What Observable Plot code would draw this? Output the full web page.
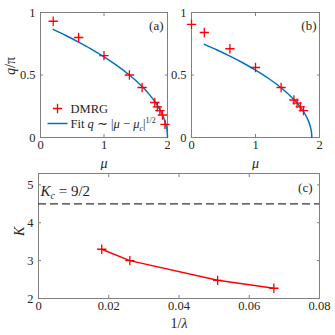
<!DOCTYPE html>
<html><head><meta charset="utf-8">
<script src="https://cdn.jsdelivr.net/npm/d3@7"></script>
<script src="https://cdn.jsdelivr.net/npm/@observablehq/plot@0.6"></script>
<style>
body{margin:0;background:#fff;}
#wrap{position:relative;width:335px;height:335px;overflow:hidden;background:#fff;}
#wrap svg{position:absolute;}
</style></head><body><div id="wrap"></div>
<script>
// Panel (a) DMRG
const muA = [0.2, 0.6, 1.0, 1.4, 1.6, 1.8, 1.84, 1.88, 1.92, 1.96];
const qA  = [0.93, 0.80, 0.655, 0.50, 0.40, 0.28, 0.245, 0.215, 0.18, 0.105];
// Panel (a) fit curve
const muFitA = [0.2, 0.4, 0.6, 0.8, 1.0, 1.2, 1.4, 1.6, 1.7, 1.8, 1.85, 1.9, 1.95, 1.98, 1.995, 2.0];
const qFitA  = [0.865, 0.816, 0.763, 0.707, 0.645, 0.577, 0.50, 0.408, 0.353, 0.288, 0.25, 0.204, 0.144, 0.091, 0.046, 0.0];
// Panel (b) DMRG
const muB = [0.0, 0.2, 0.6, 1.0, 1.4, 1.6, 1.65, 1.7, 1.75];
const qB  = [0.905, 0.84, 0.71, 0.56, 0.40, 0.30, 0.275, 0.245, 0.215];
// Panel (b) fit curve
const muFitB = [0.2, 0.4, 0.6, 0.8, 1.0, 1.2, 1.4, 1.6, 1.7, 1.78, 1.83, 1.86, 1.875, 1.88];
const qFitB  = [0.745, 0.700, 0.651, 0.598, 0.539, 0.474, 0.398, 0.304, 0.244, 0.182, 0.129, 0.081, 0.041, 0.0];
// Panel (c)
const invLambda = [0.018, 0.026, 0.051, 0.067];
const K = [3.3, 3.0, 2.48, 2.27];
const Kc = [4.5];
// Ticks
const ticksMu = [0, 1, 2];
const ticksQ = [0, 0.5, 1];
const ticksInvL = [0, 0.02, 0.04, 0.06, 0.08];
const ticksK = [2, 3, 4, 5];

const RED = "#ff0000", BLUE = "#0072BD", AX = "#808080", TXT = "#262626";
const zip = (xs, ys) => xs.map((x, i) => ({x, y: ys[i]}));
const dmrgA = zip(muA, qA), fitA = zip(muFitA, qFitA);
const dmrgB = zip(muB, qB), fitB = zip(muFitB, qFitB);
const kData = zip(invLambda, K);

const style = {fontFamily: "'Liberation Serif', serif", fontSize: "12.5px", background: "transparent", color: TXT};
const fmt = d => String(d);
const axes = (xt, yt) => [
  Plot.axisX({ticks: xt, anchor: "bottom", tickSize: -3, tickPadding: 6, stroke: AX, fill: TXT, tickFormat: fmt, label: null}),
  Plot.axisX({ticks: xt, anchor: "top", tickSize: -3, stroke: AX, tickFormat: () => "", label: null}),
  Plot.axisY({ticks: yt, anchor: "left", tickSize: -3, tickPadding: 8, stroke: AX, fill: TXT, tickFormat: fmt, label: null}),
  Plot.axisY({ticks: yt, anchor: "right", tickSize: -3, stroke: AX, tickFormat: () => "", label: null}),
  Plot.frame({stroke: AX})
];
const lineSym = {draw(ctx) { ctx.moveTo(-10, 0); ctx.lineTo(10, 0); }};
const T = (txt, o) => Plot.text([txt], {lineAnchor: "middle", fill: TXT, ...o});
const PR = 3.1, PW = 1.3;

const pA = Plot.plot({
  width: 170, height: 170, marginLeft: 40, marginRight: 3, marginTop: 12, marginBottom: 33,
  x: {domain: [0, 2]}, y: {domain: [0, 1]}, style,
  marks: [
    ...axes(ticksMu, ticksQ),
    Plot.line(fitA, {x: "x", y: "y", stroke: BLUE, strokeWidth: 1.5, curve: "catmull-rom"}),
    Plot.dot(dmrgA, {x: "x", y: "y", symbol: "plus", r: PR, stroke: RED, strokeWidth: PW}),
    T("μ", {frameAnchor: "bottom", dy: 26, fontStyle: "italic", fontSize: 14}),
    T("q/π", {frameAnchor: "left", dx: -30, rotate: -90, fontSize: 14}),
    T("(a)", {frameAnchor: "top-right", dx: -4, dy: 13, textAnchor: "end", fontSize: 13}),
    Plot.dot([0], {frameAnchor: "bottom-left", dx: 17, dy: -29, symbol: "plus", r: PR, stroke: RED, strokeWidth: PW}),
    T("DMRG", {frameAnchor: "bottom-left", dx: 30, dy: -29, textAnchor: "start", fontSize: 12.5}),
    Plot.dot([0], {frameAnchor: "bottom-left", dx: 17, dy: -14, symbol: lineSym, stroke: BLUE, strokeWidth: 1.5}),
    T("FITLEGEND", {frameAnchor: "bottom-left", dx: 30, dy: -14, textAnchor: "start", fontSize: 12.5})
  ]
});

const pB = Plot.plot({
  width: 170, height: 170, marginLeft: 26, marginRight: 16, marginTop: 12, marginBottom: 33,
  x: {domain: [0, 2]}, y: {domain: [0, 1]}, style,
  marks: [
    ...axes(ticksMu, ticksQ),
    Plot.line(fitB, {x: "x", y: "y", stroke: BLUE, strokeWidth: 1.5, curve: "catmull-rom"}),
    Plot.dot(dmrgB, {x: "x", y: "y", symbol: "plus", r: PR, stroke: RED, strokeWidth: PW}),
    T("μ", {frameAnchor: "bottom", dy: 26, fontStyle: "italic", fontSize: 14}),
    T("(b)", {frameAnchor: "top-right", dx: -3, dy: 13, textAnchor: "end", fontSize: 13})
  ]
});

const pC = Plot.plot({
  width: 335, height: 175, marginLeft: 38, marginRight: 16, marginTop: 13, marginBottom: 37,
  x: {domain: [0, 0.08]}, y: {domain: [2, 5.3]}, style,
  marks: [
    ...axes(ticksInvL, ticksK),
    Plot.ruleY(Kc, {stroke: "#333", strokeWidth: 1.2, strokeDasharray: "8,4"}),
    Plot.line(kData, {x: "x", y: "y", stroke: RED, strokeWidth: 1.5}),
    Plot.dot(kData, {x: "x", y: "y", symbol: "plus", r: PR, stroke: RED, strokeWidth: PW}),
    T("1/λ", {frameAnchor: "bottom", dy: 25, fontSize: 14}),
    T("K", {frameAnchor: "left", dx: -19, rotate: -90, fontStyle: "italic", fontSize: 14}),
    T("KCLABEL", {frameAnchor: "top-left", dx: 2, dy: 18, textAnchor: "start", fontSize: 15}),
    T("(c)", {frameAnchor: "top-right", dx: -7, dy: 14, textAnchor: "end", fontSize: 13})
  ]
});

function rich(svg, plain, html) {
  d3.select(svg).selectAll("text").filter(function() { return this.textContent === plain; })
    .each(function() { this.innerHTML = html; });
}
const it = s => `<tspan font-style="italic">${s}</tspan>`;
rich(pA, "FITLEGEND", `Fit ${it("q")} ∼ |${it("μ")} − ${it("μ")}<tspan font-style="italic" font-size="8" dy="3">c</tspan><tspan dy="-3">|</tspan><tspan font-size="8" dy="-5">1/2</tspan>`);
rich(pA, "q/π", `${it("q")}/π`);
rich(pC, "1/λ", `1/${it("λ")}`);
rich(pC, "KCLABEL", `${it("K")}<tspan font-style="italic" font-size="10" dy="3">c</tspan><tspan dy="-3"> = 9/2</tspan>`);

const wrap = document.getElementById("wrap");
[[pA, 0, 0], [pB, 165, 0], [pC, 0, 160]].forEach(([p, l, t]) => {
  p.style.left = l + "px"; p.style.top = t + "px";
  wrap.appendChild(p);
});
</script></body></html>
